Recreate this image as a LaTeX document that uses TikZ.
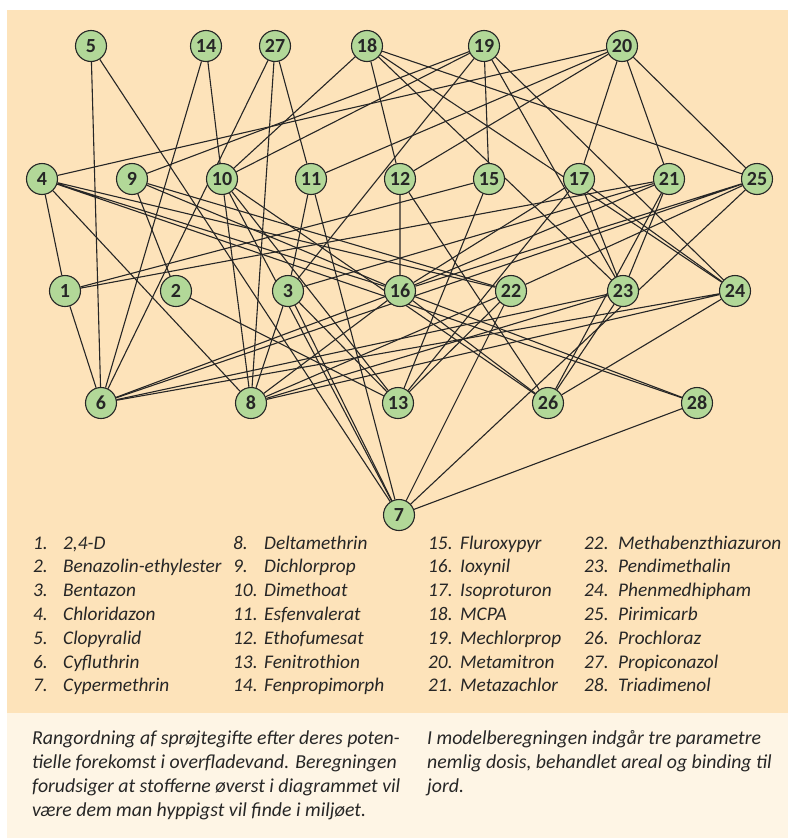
\documentclass[tikz,border=0pt]{standalone}
\usepackage{fontspec}
\setmainfont{Carlito}
\usetikzlibrary{positioning}
\definecolor{paperbg}{RGB}{253,227,186}
\definecolor{notebg}{RGB}{254,245,229}
\definecolor{leaf}{RGB}{178,216,152}
\definecolor{ink}{RGB}{38,38,38}
\pgfdeclarelayer{back}
\pgfdeclarelayer{links}
\pgfsetlayers{back,links,main}
\tikzset{
stof/.style={
  circle,
  draw=ink,
  fill=leaf,
  line width=1.1pt,
  minimum size=31pt,
  inner sep=0pt,
  text=ink,
  font=\fontsize{20}{20}\selectfont\bfseries
  },
link/.style={draw=ink,line width=1.1pt},
key/.style={
  anchor=base west,
  inner sep=0pt,
  text=ink,
  font=\fontsize{19.3}{19}\selectfont\itshape
  },
note/.style={
  key,
  font=\fontsize{19.8}{20}\selectfont\itshape
  }
}

\begin{document}
\begin{tikzpicture}[x=1pt,y=-1pt]
\useasboundingbox (0,0) rectangle (788,838);

\begin{pgfonlayer}{back}
\fill[white] (0,0) rectangle (788,838);
\fill[paperbg] (7,10) rectangle (788,713);
\fill[notebg] (7,713) rectangle (788,838);
\end{pgfonlayer}

% top row
\node[stof] (n5)  at (91,46)  {5};
\node[stof] (n14) at (206,46) {14};
\node[stof] (n27) at (275,46) {27};
\node[stof] (n18) at (367,46) {18};
\node[stof] (n19) at (484,46) {19};
\node[stof] (n20) at (622,46) {20};

% second row
\node[stof] (n4)  at (42,179)  {4};
\node[stof] (n9)  at (132,179) {9};
\node[stof] (n10) at (222,179) {10};
\node[stof] (n11) at (311,179) {11};
\node[stof] (n12) at (400,179) {12};
\node[stof] (n15) at (489,179) {15};
\node[stof] (n17) at (579,179) {17};
\node[stof] (n21) at (669,179) {21};
\node[stof] (n25) at (757,179) {25};

% third row
\node[stof] (n1)  at (65,291)  {1};
\node[stof] (n2)  at (176,291) {2};
\node[stof] (n3)  at (288,291) {3};
\node[stof] (n16) at (400,291) {16};
\node[stof] (n22) at (511,291) {22};
\node[stof] (n23) at (623,291) {23};
\node[stof] (n24) at (735,291) {24};

% fourth row
\node[stof] (n6)  at (101,403) {6};
\node[stof] (n8)  at (251,403) {8};
\node[stof] (n13) at (398,403) {13};
\node[stof] (n26) at (548,403) {26};
\node[stof] (n28) at (697,403) {28};

\node[stof] (n7) at (399,515) {7};

\begin{pgfonlayer}{links}
\draw[link] (n5) -- (n6) (n5) -- (n7);
\draw[link] (n14) -- (n6) (n14) -- (n10);
\draw[link] (n27) -- (n6) (n27) -- (n8) (n27) -- (n11);
\draw[link] (n18) -- (n10) (n18) -- (n12) (n18) -- (n23) (n18) -- (n24) (n18) -- (n25);
\draw[link] (n19) -- (n9) (n19) -- (n10) (n19) -- (n3) (n19) -- (n15) (n19) -- (n23) (n19) -- (n24);
\draw[link] (n20) -- (n4) (n20) -- (n11) (n20) -- (n12) (n20) -- (n17) (n20) -- (n21) (n20) -- (n25);

\draw[link] (n4) -- (n1) (n4) -- (n8) (n4) -- (n16) (n4) -- (n22) (n4) -- (n28);
\draw[link] (n9) -- (n2) (n9) -- (n16) (n9) -- (n22);
\draw[link] (n10) -- (n8) (n10) -- (n7) (n10) -- (n13) (n10) -- (n26);
\draw[link] (n11) -- (n3) (n11) -- (n7);
\draw[link] (n12) -- (n16) (n12) -- (n26);
\draw[link] (n15) -- (n1) (n15) -- (n13);
\draw[link] (n17) -- (n16) (n17) -- (n13) (n17) -- (n23) (n17) -- (n24);
\draw[link] (n21) -- (n1) (n21) -- (n16) (n21) -- (n3) (n21) -- (n23) (n21) -- (n26);
\draw[link] (n25) -- (n16) (n25) -- (n22) (n25) -- (n6) (n25) -- (n7);

\draw[link] (n1) -- (n6);
\draw[link] (n2) -- (n13);
\draw[link] (n3) -- (n8) (n3) -- (n13) (n3) -- (n7);
\draw[link] (n16) -- (n6) (n16) -- (n8) (n16) -- (n26) (n16) -- (n28);
\draw[link] (n22) -- (n8) (n22) -- (n13) (n22) -- (n7);
\draw[link] (n23) -- (n6) (n23) -- (n8) (n23) -- (n26);
\draw[link] (n24) -- (n6) (n24) -- (n8) (n24) -- (n26);
\draw[link] (n28) -- (n7);
\end{pgfonlayer}

% key to the numbers
\foreach \nr/\name [count=\i from 0] in {1/2{,}4-D,2/Benazolin-ethylester,3/Bentazon,4/Chloridazon,5/Clopyralid,6/Cyfluthrin,7/Cypermethrin}
  \node[key] (k\nr) at (33,549+23.8*\i) {\nr.} node[key] (s\nr) at (63,549+23.8*\i) {\name};
\foreach \nr/\name [count=\i from 0] in {8/Deltamethrin,9/Dichlorprop,10/Dimethoat,11/Esfenvalerat,12/Ethofumesat,13/Fenitrothion,14/Fenpropimorph}
  \node[key] (k\nr) at (233,549+23.8*\i) {\nr.} node[key] (s\nr) at (264,549+23.8*\i) {\name};
\foreach \nr/\name [count=\i from 0] in {15/Fluroxypyr,16/Ioxynil,17/Isoproturon,18/MCPA,19/Mechlorprop,20/Metamitron,21/Metazachlor}
  \node[key] (k\nr) at (428,549+23.8*\i) {\nr.} node[key] (s\nr) at (460,549+23.8*\i) {\name};
\foreach \nr/\name [count=\i from 0] in {22/Methabenzthiazuron,23/Pendimethalin,24/Phenmedhipham,25/Pirimicarb,26/Prochloraz,27/Propiconazol,28/Triadimenol}
  \node[key] (k\nr) at (584,549+23.8*\i) {\nr.} node[key] (s\nr) at (618,549+23.8*\i) {\name};

% caption
\node[note] (c1) at (32,744) {Rangordning af sprøjtegifte efter deres poten-};
\node[note] (c2) at (32,768) {tielle forekomst i overfladevand. Beregningen};
\node[note] (c3) at (32,792) {forudsiger at stofferne øverst i diagrammet vil};
\node[note] (c4) at (32,816) {være dem man hyppigst vil finde i miljøet.};
\node[note] (d1) at (427,744) {I modelberegningen indgår tre parametre};
\node[note] (d2) at (427,768) {nemlig dosis, behandlet areal og binding til};
\node[note] (d3) at (427,792) {jord.};
\end{tikzpicture}
\end{document}
